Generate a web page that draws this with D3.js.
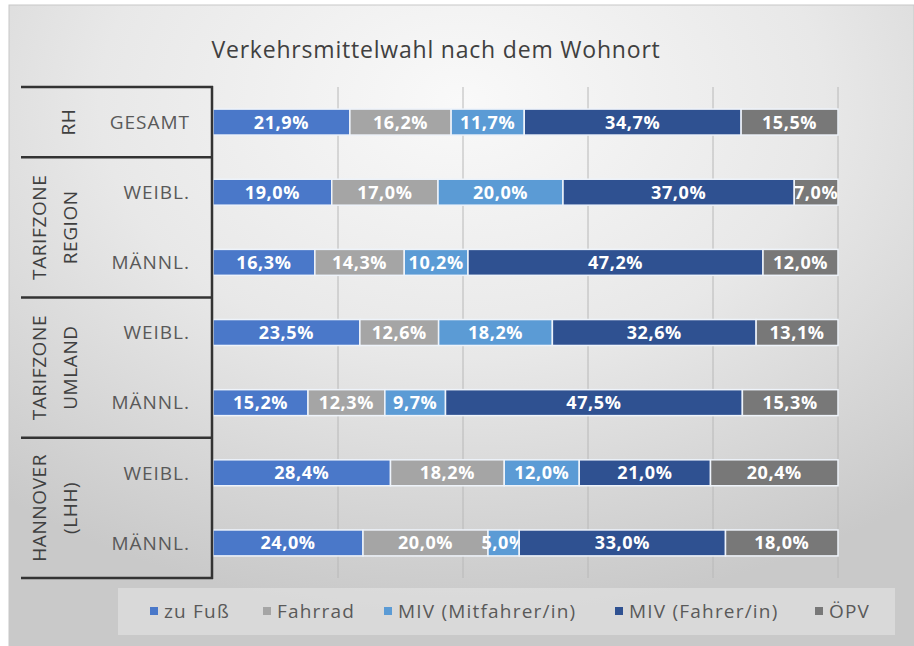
<!DOCTYPE html>
<html>
<head>
<meta charset="utf-8">
<script src="https://cdn.jsdelivr.net/npm/d3@7"></script>
<style>
  html, body { margin: 0; padding: 0; background: #fff; }
  svg { display: block; font-family: "Open Sans", sans-serif; }
</style>
</head>
<body>
<div id="chart"></div>
<script>
// data
const title = "Verkehrsmittelwahl nach dem Wohnort";
const groupNames = [["RH"], ["TARIFZONE", "REGION"], ["TARIFZONE", "UMLAND"], ["HANNOVER", "(LHH)"]];
const rowLabels = ["GESAMT", "WEIBL.", "MÄNNL.", "WEIBL.", "MÄNNL.", "WEIBL.", "MÄNNL."];
const rowGroup = [0, 1, 1, 2, 2, 3, 3];
const seriesNames = ["zu Fuß", "Fahrrad", "MIV (Mitfahrer/in)", "MIV (Fahrer/in)", "ÖPV"];
const zuFuss    = [21.9, 19.0, 16.3, 23.5, 15.2, 28.4, 24.0];
const fahrrad   = [16.2, 17.0, 14.3, 12.6, 12.3, 18.2, 20.0];
const mivMit    = [11.7, 20.0, 10.2, 18.2,  9.7, 12.0,  5.0];
const mivFahrer = [34.7, 37.0, 47.2, 32.6, 47.5, 21.0, 33.0];
const oepv      = [15.5,  7.0, 12.0, 13.1, 15.3, 20.4, 18.0];
const gridTicks = [20, 40, 60, 80, 100];
const colors = ["#4a78c9", "#a5a5a5", "#5b9bd5", "#2f5191", "#787878"];

const W = 914, H = 646;
const svg = d3.select("#chart").append("svg").attr("width", W).attr("height", H);

const defs = svg.append("defs");
const bg = defs.append("radialGradient").attr("id", "bg")
  .attr("cx", "50%").attr("cy", "15%").attr("r", "80%");
bg.append("stop").attr("offset", "0%").attr("stop-color", "#f9f9f9");
bg.append("stop").attr("offset", "50%").attr("stop-color", "#e8e8e8");
bg.append("stop").attr("offset", "100%").attr("stop-color", "#c9c9c9");

svg.append("rect").attr("x", 9).attr("y", 5).attr("width", W - 9).attr("height", H - 5)
  .attr("fill", "url(#bg)").attr("stroke", "#c8c8c8").attr("stroke-width", 1);

// title
svg.append("text").attr("x", 436).attr("y", 58).attr("text-anchor", "middle")
  .attr("font-size", 23).attr("letter-spacing", 0.8).attr("fill", "#404040").text(title);

// scales
const rows = rowLabels.map((d, i) => i);
const x = d3.scaleLinear().domain([0, 100]).range([213, 838]);
const y = d3.scaleBand().domain(rows).range([87, 578]).paddingInner(0.63).paddingOuter(0.315);
const gap = (y.step() - y.bandwidth()) / 2;

// grid
svg.append("g").selectAll("line").data(gridTicks).join("line")
  .attr("x1", d => x(d)).attr("x2", d => x(d))
  .attr("y1", 87).attr("y2", 578)
  .attr("stroke", "#b8b8b8").attr("stroke-width", 1);

// stacked bars
const table = rows.map(i => ({
  row: i,
  [seriesNames[0]]: zuFuss[i], [seriesNames[1]]: fahrrad[i], [seriesNames[2]]: mivMit[i],
  [seriesNames[3]]: mivFahrer[i], [seriesNames[4]]: oepv[i]
}));
const stacked = d3.stack().keys(seriesNames)(table);

const layer = svg.append("g").selectAll("g").data(stacked).join("g")
  .attr("fill", (d, i) => colors[i]);
layer.selectAll("rect").data(d => d).join("rect")
  .attr("x", d => x(d[0])).attr("width", d => x(d[1]) - x(d[0]))
  .attr("y", d => y(d.data.row)).attr("height", y.bandwidth())
  .attr("stroke", "#eef3fa").attr("stroke-width", 1.5);
layer.selectAll("text").data(d => d).join("text")
  .attr("x", d => (x(d[0]) + x(d[1])) / 2)
  .attr("y", d => y(d.data.row) + y.bandwidth() / 2)
  .attr("dy", "0.36em").attr("text-anchor", "middle")
  .attr("font-size", 18).attr("font-weight", 700).attr("letter-spacing", 0.6).attr("fill", "#fff")
  .text(d => d3.format(".1f")(d[1] - d[0]).replace(".", ",") + "%");

// category axis (two levels)
const axis = svg.append("g");
rows.forEach(i => {
  axis.append("text").attr("x", 190).attr("y", y(i) + y.bandwidth() / 2)
    .attr("dy", "0.36em").attr("text-anchor", "end")
    .attr("font-size", 19).attr("fill", "#595959").attr("letter-spacing", 1)
    .text(rowLabels[i]);
});
const bounds = groupNames.map((g, gi) => {
  const idx = rows.filter(i => rowGroup[i] === gi);
  return [y(idx[0]) - gap, y(idx[idx.length - 1]) + y.bandwidth() + gap];
});
const edges = [bounds[0][0]].concat(bounds.map(b => b[1]));
axis.selectAll("line.sep").data(edges).join("line")
  .attr("x1", 21).attr("x2", 213).attr("y1", d => d).attr("y2", d => d)
  .attr("stroke", "#333").attr("stroke-width", 2.5);
axis.append("line").attr("x1", 212).attr("x2", 212).attr("y1", 86).attr("y2", 579)
  .attr("stroke", "#333").attr("stroke-width", 2.5);
groupNames.forEach((lines, gi) => {
  const cy = (bounds[gi][0] + bounds[gi][1]) / 2;
  const xs = lines.length === 1 ? [68] : [39, 70];
  lines.forEach((t, k) => {
    axis.append("text").attr("transform", `translate(${xs[k]},${cy}) rotate(-90)`)
      .attr("dy", "0.36em").attr("text-anchor", "middle")
      .attr("font-size", 19).attr("fill", "#404040").attr("letter-spacing", 0.6)
      .text(t);
  });
});

// legend
const lg = svg.append("g");
lg.append("rect").attr("x", 118).attr("y", 588).attr("width", 777).attr("height", 47)
  .attr("fill", "#ffffff").attr("fill-opacity", 0.3);
const legendX = [150, 263, 384, 615, 815];
seriesNames.forEach((s, i) => {
  lg.append("rect").attr("x", legendX[i]).attr("y", 607).attr("width", 8).attr("height", 8)
    .attr("fill", colors[i]);
  lg.append("text").attr("x", legendX[i] + 14).attr("y", 611).attr("dy", "0.36em")
    .attr("font-size", 19).attr("letter-spacing", 1.2).attr("fill", "#595959").text(s);
});
</script>
</body>
</html>
